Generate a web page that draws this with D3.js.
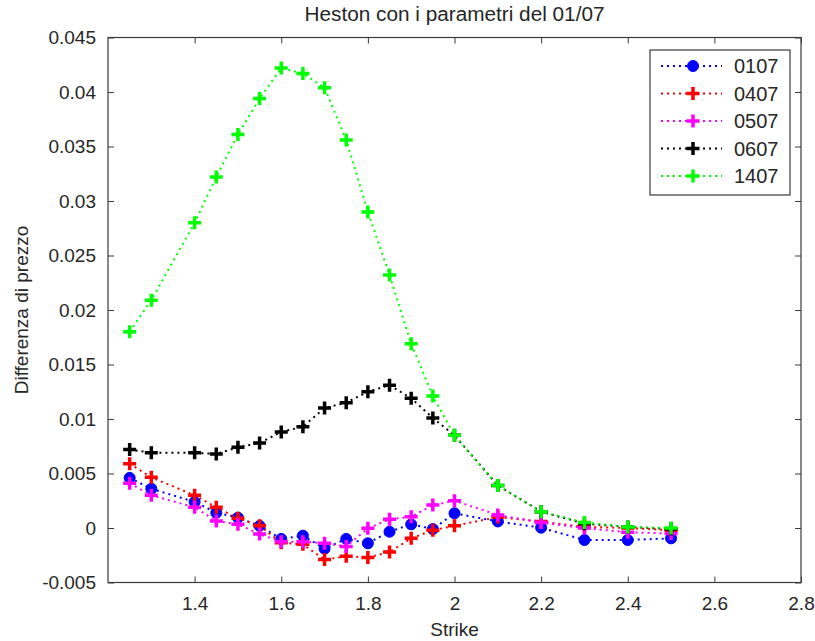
<!DOCTYPE html>
<html><head><meta charset="utf-8">
<script src="https://cdn.jsdelivr.net/npm/d3@7"></script>
<style>body{margin:0;background:#fff}svg{display:block}text{font-family:"Liberation Sans",Arial,sans-serif;fill:#262626}</style>
</head><body>
<script>
const strikes = [1.25,1.3,1.4,1.45,1.5,1.55,1.6,1.65,1.7,1.75,1.8,1.85,1.9,1.95,2.0,2.1,2.2,2.3,2.4,2.5];
const s0107 = [0.0046,0.0036,0.0024,0.0014,0.00095,0.0002,-0.0010,-0.0007,-0.0019,-0.0010,-0.0014,-0.00034,0.00034,-0.0001,0.00135,0.0006,0.00003,-0.0011,-0.0011,-0.00095];
const s0407 = [0.0059,0.00465,0.0030,0.0019,0.0009,0.0002,-0.00135,-0.0015,-0.0029,-0.0026,-0.0027,-0.0022,-0.00095,-0.0002,0.0002,0.001,0.0006,0.0001,0.0,-0.0002];
const s0507 = [0.0041,0.0030,0.0019,0.00064,0.00034,-0.00055,-0.00126,-0.00126,-0.0014,-0.0017,-0.00003,0.0008,0.00104,0.0021,0.0025,0.0012,0.0005,0.0,-0.0004,-0.0005];
const s0607 = [0.0072,0.0069,0.0069,0.0068,0.0074,0.0078,0.0088,0.0093,0.0110,0.0115,0.0125,0.0131,0.0119,0.0101,0.0085,0.0039,0.0015,0.0004,0.0001,-0.0001];
const s1407 = [0.0180,0.0209,0.0280,0.0322,0.0361,0.0394,0.0422,0.0417,0.0404,0.0356,0.0290,0.0232,0.0169,0.0121,0.0085,0.0039,0.0015,0.0005,0.0001,0.0];
const seriesNames = ["0107","0407","0507","0607","1407"];
const seriesColors = ["#0000ff","#ff0000","#ff00ff","#000000","#00ff00"];
const seriesMarkers = ["circle","plus","plus","plus","plus"];
const xTicks = [1.4,1.6,1.8,2,2.2,2.4,2.6,2.8];
const yTicks = [-0.005,0,0.005,0.01,0.015,0.02,0.025,0.03,0.035,0.04,0.045];
const xTickLabels = ["1.4","1.6","1.8","2","2.2","2.4","2.6","2.8"];
const yTickLabels = ["-0.005","0","0.005","0.01","0.015","0.02","0.025","0.03","0.035","0.04","0.045"];
const title = "Heston con i parametri del 01/07";
const xLabel = "Strike";
const yLabel = "Differenza di prezzo";

const W=815,H=641;
const L=108,R=801,T=37.5,B=582.5;
const svg=d3.select("body").append("svg").attr("width",W).attr("height",H);
const x=d3.scaleLinear().domain([1.2,2.8]).range([L,R]);
const y=d3.scaleLinear().domain([-0.005,0.045]).range([B,T]);
const axisColor="#3a3a3a";

svg.append("rect").attr("x",L).attr("y",T).attr("width",R-L).attr("height",B-T).attr("fill","none").attr("stroke",axisColor).attr("stroke-width",1.2);
const tl=6;
const fs=19;
const gx=svg.append("g").attr("transform",`translate(0,${B})`).call(d3.axisBottom(x).tickValues(xTicks).tickSizeInner(-tl).tickSizeOuter(0).tickPadding(14).tickFormat((d,i)=>xTickLabels[i]));
gx.select(".domain").remove();
gx.selectAll("line").attr("stroke",axisColor);
gx.selectAll("text").attr("font-size",fs).attr("fill","#262626").attr("font-family","Liberation Sans, Arial, sans-serif");
const gxt=svg.append("g").attr("transform",`translate(0,${T})`).call(d3.axisTop(x).tickValues(xTicks).tickSizeInner(-tl).tickSizeOuter(0).tickFormat(""));
gxt.select(".domain").remove(); gxt.selectAll("line").attr("stroke",axisColor);
const gy=svg.append("g").attr("transform",`translate(${L},0)`).call(d3.axisLeft(y).tickValues(yTicks).tickSizeInner(-tl).tickSizeOuter(0).tickPadding(12).tickFormat((d,i)=>yTickLabels[i]));
gy.select(".domain").remove();
gy.selectAll("line").attr("stroke",axisColor);
gy.selectAll("text").attr("font-size",fs).attr("fill","#262626").attr("font-family","Liberation Sans, Arial, sans-serif");
const gyr=svg.append("g").attr("transform",`translate(${R},0)`).call(d3.axisRight(y).tickValues(yTicks).tickSizeInner(-tl).tickSizeOuter(0).tickFormat(""));
gyr.select(".domain").remove(); gyr.selectAll("line").attr("stroke",axisColor);

svg.append("text").attr("x",(L+R)/2).attr("y",21).attr("text-anchor","middle").attr("font-size",20).attr("textLength",300).attr("lengthAdjust","spacingAndGlyphs").text(title);
svg.append("text").attr("x",(L+R)/2).attr("y",636).attr("text-anchor","middle").attr("font-size",19).text(xLabel);
svg.append("text").attr("transform",`translate(28,${(T+B)/2}) rotate(-90)`).attr("text-anchor","middle").attr("font-size",19).text(yLabel);

const allSeries=[s0107,s0407,s0507,s0607,s1407];
const line=d3.line().x((d,i)=>x(strikes[i])).y(d=>y(d));
const plusPath=(s)=>`M${-s},0H${s}M0,${-s}V${s}`;

function drawMarker(g,type,color,cx,cy){
  if(type==="circle"){
    g.append("circle").attr("cx",cx).attr("cy",cy).attr("r",5.5).attr("fill",color).attr("stroke",color).attr("stroke-width",1);
  } else {
    g.append("path").attr("d",plusPath(6.5)).attr("transform",`translate(${cx},${cy})`).attr("stroke",color).attr("stroke-width",3.5).attr("fill","none");
  }
}

const plot=svg.append("g");
allSeries.forEach((vals,k)=>{
  const g=plot.append("g");
  g.append("path").attr("d",line(vals)).attr("fill","none").attr("stroke",seriesColors[k]).attr("stroke-width",2).attr("stroke-dasharray","2,4");
  vals.forEach((v,i)=>drawMarker(g,seriesMarkers[k],seriesColors[k],x(strikes[i]),y(v)));
});

const lg=svg.append("g");
const lx=650,ly=50,lw=140,lh=145;
lg.append("rect").attr("x",lx).attr("y",ly).attr("width",lw).attr("height",lh).attr("fill","#fff").attr("stroke",axisColor).attr("stroke-width",1.2);
seriesNames.forEach((n,k)=>{
  const yy=ly+16+k*27.5;
  lg.append("line").attr("x1",lx+11).attr("x2",lx+72).attr("y1",yy).attr("y2",yy).attr("stroke",seriesColors[k]).attr("stroke-width",2).attr("stroke-dasharray","2,4");
  drawMarker(lg,seriesMarkers[k],seriesColors[k],lx+43,yy);
  lg.append("text").attr("x",lx+84).attr("y",yy+7).attr("font-size",20).text(n);
});
</script>
</body></html>
